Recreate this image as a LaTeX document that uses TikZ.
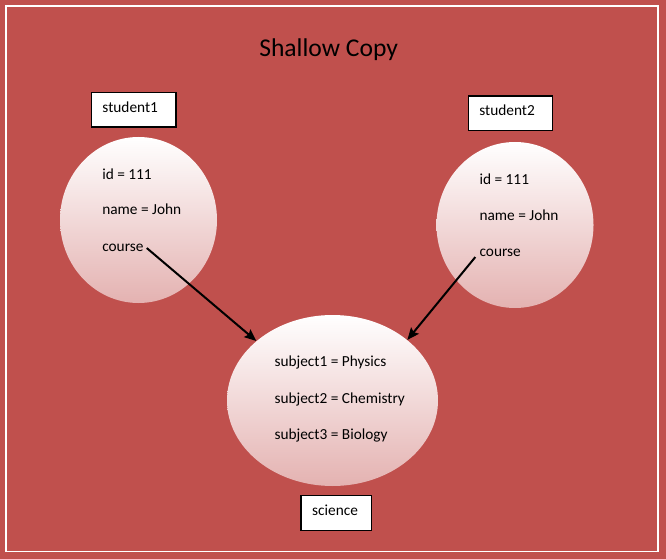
\documentclass[tikz,border=0pt]{standalone}
\usepackage{fontspec}
\setmainfont{Carlito}
\usetikzlibrary{shapes.geometric,arrows.meta}
\definecolor{bgred}{RGB}{192,80,77}
\definecolor{ellbot}{RGB}{228,178,177}
\begin{document}
\begin{tikzpicture}[x=0.75pt,y=-0.75pt,
  lbl/.style={inner sep=0pt, anchor=base west, font=\fontsize{11.5}{13}\selectfont},
  titletext/.style={inner sep=0pt, anchor=base west, font=\fontsize{19.2}{23}\selectfont},
  namebox/.style={draw=black, line width=1.125pt, fill=white, inner xsep=8.25pt, inner ysep=0pt,
    minimum height=25.9pt, text height=7.5pt, text depth=3.75pt, align=left,
    font=\fontsize{11.5}{13}\selectfont},
  blob/.style={ellipse, inner sep=0pt, top color=white, bottom color=ellbot, draw=none},
  link/.style={-{Stealth[length=9pt,width=7.5pt,inset=1.5pt]}, line width=1.5pt, black}]
\fill[bgred] (0,0) rectangle (666,559);
\useasboundingbox (0,0) rectangle (666,559);
\draw[white, line width=1.2pt] (5.75,5.75) rectangle (658,551.5);

\node[titletext] (title) at (259,56.7) {Shallow Copy};

\node[namebox, text width=46.9pt] (s1) at (133.75,109.6) {student1};
\node[namebox, text width=46.8pt] (s2) at (510.5,113.3) {student2};
\node[namebox, text width=36.1pt, minimum height=26.25pt] (sc) at (336.3,512.8) {science};

\node[blob, minimum width=117.75pt, minimum height=124.5pt] (e1) at (138.5,220) {};
\node[blob, minimum width=117.75pt, minimum height=124.5pt] (e2) at (515,225) {};
\node[blob, minimum width=158.25pt, minimum height=128.25pt] (e3) at (332.5,400.5) {};

\node[lbl] (a1) at (102,179.3) {id = 111};
\node[lbl] (b1) at (102,214.7) {name = John};
\node[lbl] (c1) at (102,251.7) {course};

\node[lbl] (a2) at (479.3,185) {id = 111};
\node[lbl] (b2) at (479.3,220.7) {name = John};
\node[lbl] (c2) at (479.3,256.7) {course};

\node[lbl] (p3) at (274.3,366.7) {subject1 = Physics};
\node[lbl] (q3) at (274.3,403.3) {subject2 = Chemistry};
\node[lbl] (r3) at (274.3,439.3) {subject3 = Biology};

\draw[link] ([xshift=2.25pt]c1.east) -- (e3.142);
\draw[link] ([xshift=-3pt]c2.south west) -- (e3.39);
\end{tikzpicture}
\end{document}
